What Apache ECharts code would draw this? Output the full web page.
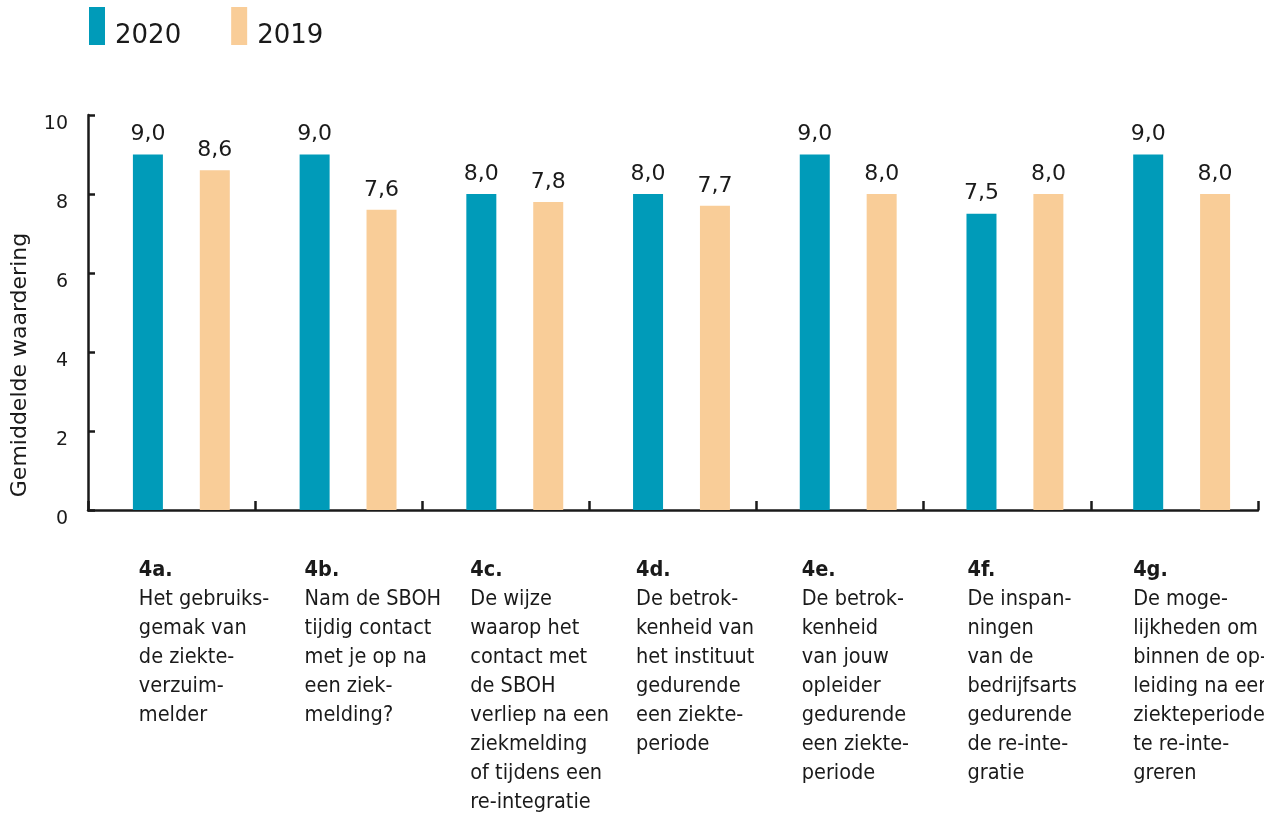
<!DOCTYPE html>
<html>
<head>
<meta charset="utf-8">
<script src="https://cdn.jsdelivr.net/npm/echarts@6/dist/echarts.min.js"></script>
<style>
  html, body { margin: 0; padding: 0; background: #fff; }
  #main { width: 1264px; height: 816px; }
</style>
</head>
<body>
<div id="main"></div>
<script>
// data
var codes = ['4a.', '4b.', '4c.', '4d.', '4e.', '4f.', '4g.'];
var questions = [
  'Het gebruiks-\ngemak van\nde ziekte-\nverzuim-\nmelder',
  'Nam de SBOH\ntijdig contact\nmet je op na\neen ziek-\nmelding?',
  'De wijze\nwaarop het\ncontact met\nde SBOH\nverliep na een\nziekmelding\nof tijdens een\nre-integratie',
  'De betrok-\nkenheid van\nhet instituut\ngedurende\neen ziekte-\nperiode',
  'De betrok-\nkenheid\nvan jouw\nopleider\ngedurende\neen ziekte-\nperiode',
  'De inspan-\nningen\nvan de\nbedrijfsarts\ngedurende\nde re-inte-\ngratie',
  'De moge-\nlijkheden om\nbinnen de op-\nleiding na een\nziekteperiode\nte re-inte-\ngreren'
];
var scores2020 = [9.0, 9.0, 8.0, 8.0, 9.0, 7.5, 9.0];
var scores2019 = [8.6, 7.6, 7.8, 7.7, 8.0, 8.0, 8.0];
var yTicks = [0, 2, 4, 6, 8, 10];

var ink = '#1a1a1a';
var sans = 'DejaVu Sans';
var narrow = 'DejaVu Sans Condensed';

function komma(v) {
  return v.toFixed(1).replace('.', ',');
}

var myChart = echarts.init(document.getElementById('main'));

var barLabel = {
  show: true,
  position: 'top',
  distance: 9,
  fontFamily: sans,
  fontSize: 22,
  color: ink,
  formatter: function (p) { return komma(p.value); }
};

var option = {
  animation: false,
  legend: {
    left: 89,
    top: 7,
    padding: 0,
    itemWidth: 16,
    itemHeight: 38,
    itemGap: 50,
    icon: 'rect',
    data: ['2020', '2019'],
    textStyle: {
      fontFamily: sans,
      fontSize: 26,
      color: ink,
      lineHeight: 38,
      verticalAlign: 'bottom',
      rich: {
        a: { fontFamily: sans, fontSize: 26, color: ink, padding: [20, 0, 0, 5] }
      }
    },
    formatter: function (name) { return '{a|' + name + '}'; }
  },
  grid: [
    // axes
    { left: 88, top: 115, width: 1170, height: 395, outerBoundsMode: 'none' },
    // bars
    { left: 98, top: 115, width: 1167, height: 395, outerBoundsMode: 'none' },
    // category texts
    { left: 56, top: 115, width: 1160, height: 395, outerBoundsMode: 'none' }
  ],
  xAxis: [
    {
      gridIndex: 0,
      type: 'category',
      data: codes,
      boundaryGap: true,
      axisLine: { lineStyle: { color: ink, width: 2.5 } },
      axisTick: { show: true, interval: 0, inside: true, length: 9, lineStyle: { color: ink, width: 2.5 } },
      axisLabel: { show: false }
    },
    {
      gridIndex: 1,
      type: 'category',
      data: codes,
      show: false
    },
    {
      gridIndex: 2,
      type: 'category',
      data: codes,
      axisLine: { show: false },
      axisTick: { show: false },
      axisLabel: {
        interval: 0,
        align: 'left',
        margin: 46,
        formatter: function (val, i) {
          var lines = questions[i].split('\n').map(function (l) { return '{t|' + l + '}'; });
          return '{b|' + val + '}\n' + lines.join('\n');
        },
        rich: {
          b: { fontFamily: narrow, fontWeight: 'bold', fontSize: 21.5, lineHeight: 29, color: ink },
          t: { fontFamily: narrow, fontSize: 21.5, lineHeight: 29, color: ink }
        }
      }
    }
  ],
  yAxis: [
    {
      gridIndex: 0,
      type: 'value',
      min: 0,
      max: 10,
      interval: 2,
      axisLine: { show: true, lineStyle: { color: ink, width: 2.5 } },
      axisTick: { show: true, inside: true, length: 7, lineStyle: { color: ink, width: 2.5 } },
      splitLine: { show: false },
      axisLabel: {
        color: ink,
        fontFamily: sans,
        fontSize: 19,
        margin: 20,
        verticalAlign: 'top',
        formatter: function (v) { return yTicks.indexOf(v) >= 0 ? String(v) : ''; }
      }
    },
    { gridIndex: 1, type: 'value', min: 0, max: 10, show: false },
    { gridIndex: 2, type: 'value', min: 0, max: 10, show: false }
  ],
  graphic: [
    {
      type: 'text',
      x: 20,
      y: 365,
      rotation: Math.PI / 2,
      style: {
        text: 'Gemiddelde waardering',
        fontFamily: sans,
        fontSize: 22,
        fill: ink,
        textAlign: 'center',
        textVerticalAlign: 'middle'
      }
    }
  ],
  series: [
    {
      name: '2020',
      type: 'bar',
      xAxisIndex: 1,
      yAxisIndex: 1,
      data: scores2020,
      barWidth: 30,
      barGap: '123%',
      itemStyle: { color: '#009bb9' },
      label: barLabel
    },
    {
      name: '2019',
      type: 'bar',
      xAxisIndex: 1,
      yAxisIndex: 1,
      data: scores2019,
      barWidth: 30,
      itemStyle: { color: '#f9cd98' },
      label: barLabel
    }
  ]
};

myChart.setOption(option);
</script>
</body>
</html>
